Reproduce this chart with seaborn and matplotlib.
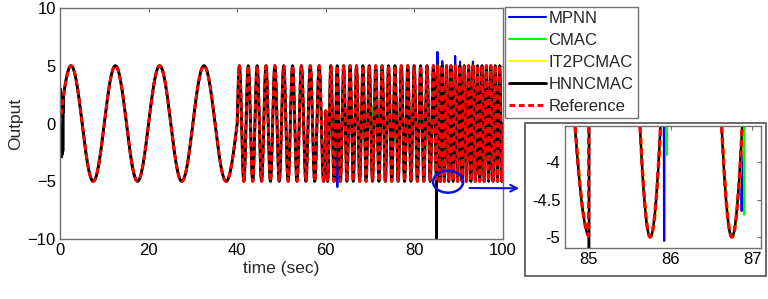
import numpy as np
import matplotlib
matplotlib.use('Agg')
import matplotlib.pyplot as plt
import seaborn as sns
from matplotlib.patches import Ellipse, Rectangle, FancyArrowPatch

# reference signal: 5*sin(2*pi*t/P), period changes at given times
seg_start = [0, 40, 60, 85]
seg_period = [10.0, 2.0, 1.447, 1.0]
amp = 5.0

names = ['MPNN', 'CMAC', 'IT2PCMAC', 'HNNCMAC']
colors = ['#0000ff', '#00ff00', '#ffff00', '#000000']
lags = [0.0, 0.0, 0.008, 0.0]

# spikes (time, value)
mpnn_spike_t = [62.6, 85.2, 86.3, 89.2, 90.3, 93.2, 85.92, 86.87, 94.5, 97.0]
mpnn_spike_y = [-5.5, 6.2, 5.4, 5.85, 5.35, 5.35, -5.05, -4.65, -4.4, -4.0]
cmac_spike_t = [85.95, 86.9, 70.5, 78.3, 88.5, 95.5]
cmac_spike_y = [-3.9, -4.7, 1.5, -2.0, -3.0, 1.0]
it2_spike_t = []
it2_spike_y = []
hnn_spike_t = [0.08, 0.16, 0.24, 0.32, 0.40, 0.48, 0.56, 0.64, 0.72, 85.0]
hnn_spike_y = [3.0, -2.5, 1.2, -2.9, 1.5, -2.7, 0.8, -2.4, 1.0, -10.5]

spikes_t = [mpnn_spike_t, cmac_spike_t, it2_spike_t, hnn_spike_t]
spikes_y = [mpnn_spike_y, cmac_spike_y, it2_spike_y, hnn_spike_y]

dt = 0.005
t = np.arange(0, 100 + dt / 2, dt)


def reference(tt, lag=0.0):
    idx = np.searchsorted(seg_start, tt, side='right') - 1
    P = np.array(seg_period)[idx]
    return amp * np.sin(2 * np.pi * (tt - lag) / P)


ref = reference(t)
outputs = []
for lag, st, sy in zip(lags, spikes_t, spikes_y):
    y = reference(t, lag)
    for a, b in zip(st, sy):
        y[int(round(a / dt))] = b
    outputs.append(y)

sns.set_style('white')
plt.rcParams['font.family'] = ['Liberation Sans', 'DejaVu Sans']

W, H = 768, 299
fig = plt.figure(figsize=(W / 100, H / 100), dpi=100)
ax = fig.add_axes([60 / W, 1 - 239 / H, 443 / W, 231 / H])
ins = fig.add_axes([564.5 / W, 1 - 248.3 / H, 196 / W, 122.6 / H])

# (axes, widths of MPNN/CMAC/IT2PCMAC/HNNCMAC, width of reference)
styles = [(ax, [1.5, 1.5, 1.5, 2.1], 2.1), (ins, [1.6, 1.6, 1.6, 1.7], 2.4)]
for a, widths, lw_ref in styles:
    for name, c, y, lw in zip(names, colors, outputs, widths):
        sns.lineplot(x=t, y=y, ax=a, color=c, lw=lw, label=name,
                     legend=False, estimator=None, sort=False)
    sns.lineplot(x=t, y=ref, ax=a, color='#ff0000', lw=lw_ref, label='Reference',
                 legend=False, estimator=None, sort=False, dashes=(2, 1.2))
    a.set_xlabel('')
    a.set_ylabel('')
    for s in a.spines.values():
        s.set_color('#707070')
        s.set_linewidth(1.0)
    a.tick_params(direction='in', top=True, right=True, length=3, width=0.8,
                  color='#707070', labelcolor='black', labelsize=12, pad=3)

ax.set_xlim(0, 100)
ax.set_ylim(-10, 10)
ax.set_xticks([0, 20, 40, 60, 80, 100])
ax.set_yticks([-10, -5, 0, 5, 10])
ax.set_xlabel('time (sec)', fontsize=12.5, labelpad=2)
ax.set_ylabel('Output', fontsize=12.5, labelpad=3)

ins.set_xlim(84.70, 87.1)
ins.set_ylim(-5.15, -3.51)
ins.set_xticks([85, 86, 87])
ins.set_yticks([-5, -4.5, -4])
ins.set_yticklabels(['-5', '-4.5', '-4'])

# zoom marker
ax.add_patch(Ellipse((87.6, -5.04), width=6.8, height=1.9, fill=False,
                     edgecolor='#1010e0', lw=1.8, clip_on=False, zorder=10))
fig.add_artist(FancyArrowPatch((466.7 / W, 1 - 188 / H), (522 / W, 1 - 188.3 / H),
                               transform=fig.transFigure, arrowstyle='->',
                               mutation_scale=12, color='#1010e0', lw=1.5))
fig.add_artist(Rectangle((525 / W, 1 - 276 / H), 241 / W, 153.3 / H, fill=False,
                         transform=fig.transFigure, edgecolor='#505050', lw=1.2))

handles, labels = ax.get_legend_handles_labels()
leg = fig.legend(handles, labels, loc='upper left', bbox_to_anchor=(505 / W, 1 - 7 / H),
                 bbox_transform=fig.transFigure, frameon=True, fancybox=False,
                 borderaxespad=0, handlelength=2.2, handletextpad=0.15,
                 labelspacing=0.42, borderpad=0.25, fontsize=12)
leg.get_frame().set_edgecolor('#505050')
leg.get_frame().set_linewidth(1.0)

fig.savefig('out.png', dpi=100)
